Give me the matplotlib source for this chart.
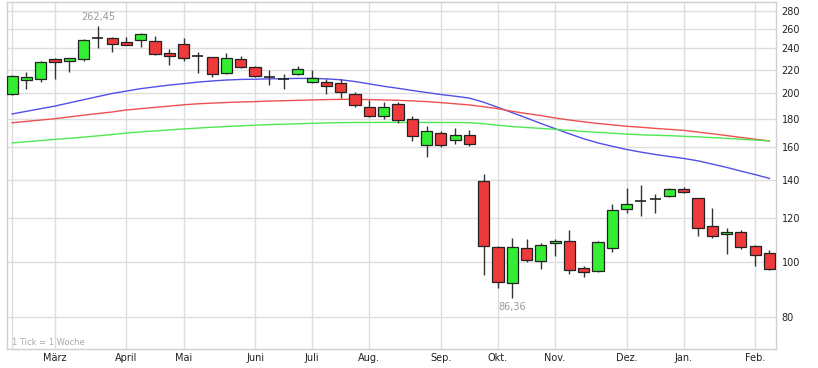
import matplotlib
matplotlib.use("Agg")
import matplotlib.pyplot as plt
from matplotlib.ticker import FixedLocator, NullLocator, FuncFormatter
import numpy as np

# weekly candles (1 Tick = 1 Woche)
opens = [199, 211, 212, 229.5, 228, 229.5, 250.3, 250.5, 246, 248,
         247.5, 235, 244, 232.5, 231.5, 216.5, 230, 222, 213, 211.5,
         216, 209, 209, 208.5, 199.5, 189, 182, 191.5, 180, 161.5,
         170, 164.8, 168.5, 139.6, 106.7, 92, 106.3, 100.5, 108.1, 109,
         97.6, 96.6, 106.3, 124.4, 128.4, 129.8, 131.3, 135, 130, 116,
         112.2, 113.2, 107, 104]
highs = [215, 217.5, 227.5, 231, 231, 249, 262.45, 251, 251.5, 255,
         252.5, 239, 250, 236.5, 232, 235, 233, 223, 220, 216,
         223.5, 220, 212, 211.5, 200.5, 194, 193, 193, 182, 174.5,
         171, 173, 172, 143.5, 107, 110.5, 110, 108.3, 110, 114,
         98.5, 109.2, 127, 135.5, 137, 132.5, 135.5, 136, 130.3, 125,
         115, 114.3, 107.3, 105.3]
lows = [198, 203.5, 209, 212, 218, 228, 240.5, 236.5, 243, 241.5,
        233.5, 224, 228, 216.5, 213.5, 216, 221.5, 213.5, 206.5, 203.5,
        215, 208.5, 199, 196, 188.5, 181, 179.5, 177, 164.5, 154,
        160.5, 162.3, 161, 95, 90, 86.36, 100, 97.2, 102.8, 95.2,
        94.3, 96.3, 104.5, 122.3, 121, 122.3, 130.5, 132.8, 111.3, 110.3,
        103.5, 105.5, 98.4, 97]
closes = [214, 213, 226.5, 226.5, 230.5, 248.5, 250.3, 244.5, 243.7, 254.5,
          234, 232.5, 231, 232.5, 215.7, 230.5, 222, 214.3, 213, 211.5,
          220.5, 212.5, 205.5, 200.5, 190, 182, 189, 179, 167.5, 171,
          161.9, 168.2, 162.6, 107, 92.2, 106.5, 100.8, 107.5, 109.2, 97,
          96, 108.6, 124, 127.2, 128.4, 129.8, 135.2, 133.2, 115, 111.5,
          113.1, 106.7, 103.3, 97.4]

# moving averages
ma_blue = [183.5, 185.5, 187.5, 189.5, 192, 194.5, 197, 199.5, 201.5, 203.5,
           205, 206.5, 207.7, 209, 210, 210.8, 211.3, 211.5, 211.8, 212,
           212.2, 212.2, 211.8, 211, 209.5, 207.5, 205.5, 203.8, 202, 200.3,
           198.7, 197.3, 195.8, 192.5, 188.5, 184.5, 180.5, 176.5, 172.8, 169.2,
           165.8, 163, 160.8, 158.7, 157, 155.5, 154.2, 153, 151.5, 149.5,
           147.5, 145.3, 143.2, 141]
ma_red = [177, 178, 179, 180, 181.3, 182.6, 183.8, 185, 186.5, 187.5,
          188.5, 189.5, 190.5, 191.3, 191.8, 192.3, 192.7, 193, 193.4, 193.7,
          194, 194.3, 194.6, 194.8, 194.8, 194.6, 194.3, 194, 193.6, 193,
          192.2, 191.3, 190.4, 189, 187.5, 185.5, 183.8, 182.3, 180.5, 179,
          177.7, 176.5, 175.5, 174.5, 173.8, 173, 172.3, 171.6, 170.4, 169.2,
          168, 166.7, 165.5, 164.3]
ma_green = [163, 163.8, 164.6, 165.4, 166.1, 166.9, 167.8, 168.7, 169.7, 170.5,
            171.2, 171.9, 172.6, 173.2, 173.8, 174.3, 174.8, 175.3, 175.7, 176,
            176.3, 176.6, 176.9, 177.1, 177.2, 177.2, 177.3, 177.3, 177.3, 177.2,
            177.2, 177.2, 177.1, 176.3, 175.2, 174.3, 173.6, 173, 172.3, 171.6,
            170.8, 170.2, 169.6, 169, 168.5, 168.2, 167.9, 167.5, 167.1, 166.6,
            166.1, 165.5, 164.9, 164.3]

month_labels = ["März", "April", "Mai", "Juni", "Juli", "Aug.", "Sep.",
                "Okt.", "Nov.", "Dez.", "Jan.", "Feb."]
month_weeks = [3, 8, 12, 17, 21, 25, 30, 34, 38, 43, 47, 52]
y_ticks = [80, 100, 120, 140, 160, 180, 200, 220, 240, 260, 280]

o = np.array(opens)
h = np.array(highs)
l = np.array(lows)
c = np.array(closes)
x = np.arange(len(o))

fig = plt.figure(figsize=(8.18, 3.68), dpi=100)
ax = fig.add_axes([7 / 818, 19 / 368, 769 / 818, 347 / 368])
ax.set_yscale("log")

ax.plot(x, ma_blue, color="#5050e8", lw=1, zorder=2)
ax.plot(x, ma_red, color="#ee5050", lw=1, zorder=2)
ax.plot(x, ma_green, color="#50e850", lw=1, zorder=2)

w = 0.78
up = c > o
down = c < o
flat = c == o

ax.vlines(x, l, h, color="#333333", lw=1, zorder=3)
ax.bar(x[up], c[up] - o[up], bottom=o[up], width=w, color="#33ee33",
       edgecolor="#222222", lw=0.9, zorder=4)
ax.bar(x[down], o[down] - c[down], bottom=c[down], width=w, color="#ee3a3a",
       edgecolor="#222222", lw=0.9, zorder=4)
ax.hlines(c[flat], x[flat] - w / 2, x[flat] + w / 2, color="#222222", lw=1.2,
          zorder=4)

ax.set_ylim(70.2, 290)
ax.set_xlim(-0.36, 53.46)

ax.yaxis.set_major_locator(FixedLocator(y_ticks))
ax.yaxis.set_minor_locator(NullLocator())
ax.yaxis.set_major_formatter(FuncFormatter(lambda v, p: "%d" % v))
ax.yaxis.tick_right()
ax.set_xticks(month_weeks)
ax.set_xticklabels(month_labels)
ax.tick_params(axis="both", length=0, labelsize=7, colors="#222222")
ax.tick_params(axis="y", pad=4)
ax.tick_params(axis="x", pad=3)

ax.grid(True, color="#dedede", lw=1)
ax.axvline(0, color="#dedede", lw=1, zorder=0)
ax.set_axisbelow(True)
for s in ax.spines.values():
    s.set_color("#d0d0d0")
    s.set_linewidth(1)

i_hi = int(np.argmax(h))
i_lo = int(np.argmin(l))
ax.annotate("262,45", (i_hi, h[i_hi]), xytext=(0, 3), textcoords="offset points",
            ha="center", va="bottom", fontsize=7, color="#999999")
ax.annotate("86,36", (i_lo, l[i_lo]), xytext=(0, -3), textcoords="offset points",
            ha="center", va="top", fontsize=7, color="#999999")
ax.text(0.006, 0.018, "1 Tick = 1 Woche", transform=ax.transAxes,
        fontsize=6, color="#aaaaaa", va="center", ha="left")

fig.savefig("out.png", dpi=100, facecolor="white")
